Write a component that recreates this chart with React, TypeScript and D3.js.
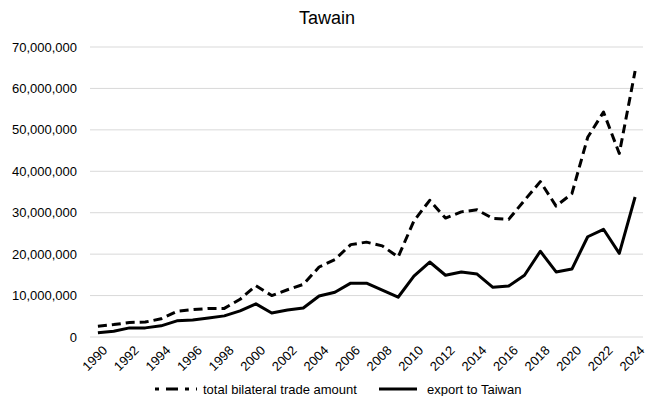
import React, { useEffect, useRef } from 'react';
import * as d3 from 'd3';

// years 1990 - 2024
const years: number[] = d3.range(1990, 2025);

const totalTrade: number[] = [
  2.6, 3.0, 3.5, 3.6, 4.4, 6.2, 6.6, 6.9, 6.9, 9.1,
  12.4, 10.0, 11.4, 12.7, 16.9, 18.7, 22.3, 22.9, 22.0, 19.3,
  28.0, 33.0, 28.7, 30.2, 30.7, 28.6, 28.4, 33.0, 37.5, 31.6,
  34.6, 48.2, 54.3, 44.3, 64.2,
].map(v => v * 1e6);

const exportTW: number[] = [
  1.0, 1.4, 2.2, 2.2, 2.7, 3.9, 4.1, 4.6, 5.1, 6.3,
  8.0, 5.8, 6.5, 7.0, 9.9, 10.8, 13.0, 13.0, 11.3, 9.6,
  14.7, 18.1, 14.9, 15.7, 15.2, 12.0, 12.3, 14.9, 20.7, 15.7,
  16.4, 24.2, 26.0, 20.2, 33.8,
].map(v => v * 1e6);

const yTicks: number[] = [0, 1e7, 2e7, 3e7, 4e7, 5e7, 6e7, 7e7];

const App = () => {
  const ref = useRef<SVGSVGElement>(null);

  useEffect(() => {
    const width = 657;
    const height = 400;
    const margin = { top: 47, right: 14, bottom: 63, left: 90 };
    const font = 'Liberation Sans, Arial, Helvetica, sans-serif';

    const svg = d3.select(ref.current);
    svg.selectAll('*').remove();
    svg.attr('width', width).attr('height', height)
      .style('font-family', font);

    svg.append('rect').attr('width', width).attr('height', height).attr('fill', '#fff');

    const x = d3.scaleBand<number>()
      .domain(years)
      .range([margin.left, width - margin.right]);

    const y = d3.scaleLinear()
      .domain([0, 7e7])
      .range([height - margin.bottom, margin.top]);

    // gridlines
    svg.append('g')
      .selectAll('line')
      .data(yTicks)
      .enter()
      .append('line')
      .attr('x1', margin.left)
      .attr('x2', width - margin.right)
      .attr('y1', d => y(d))
      .attr('y2', d => y(d))
      .attr('stroke', '#d9d9d9')
      .attr('stroke-width', 1);

    // y labels
    svg.append('g')
      .selectAll('text')
      .data(yTicks)
      .enter()
      .append('text')
      .attr('x', 77)
      .attr('y', d => y(d))
      .attr('dy', '0.35em')
      .attr('text-anchor', 'end')
      .attr('font-size', 13)
      .attr('fill', '#000')
      .text(d => d3.format(',')(d));

    // x labels, every other year, rotated
    const cx = (yr: number) => (x(yr) as number) + x.bandwidth() / 2;
    svg.append('g')
      .selectAll('text')
      .data(years.filter(yr => yr % 2 === 0))
      .enter()
      .append('text')
      .attr('transform', d => `translate(${cx(d) + 7},${height - margin.bottom + 11}) rotate(-45)`)
      .attr('text-anchor', 'end')
      .attr('dy', '0.35em')
      .attr('font-size', 13)
      .attr('fill', '#000')
      .text(d => d);

    const line = (vals: number[]) => d3.line<number>()
      .x((_, i) => cx(years[i]))
      .y(d => y(d))(vals);

    svg.append('path')
      .attr('d', line(totalTrade))
      .attr('fill', 'none')
      .attr('stroke', '#000')
      .attr('stroke-width', 3)
      .attr('stroke-dasharray', '9,5')
      .attr('stroke-linejoin', 'round');

    svg.append('path')
      .attr('d', line(exportTW))
      .attr('fill', 'none')
      .attr('stroke', '#000')
      .attr('stroke-width', 3)
      .attr('stroke-linejoin', 'round');

    // title
    svg.append('text')
      .attr('x', 327)
      .attr('y', 24)
      .attr('text-anchor', 'middle')
      .attr('font-size', 18)
      .attr('fill', '#000')
      .text('Tawain');

    // legend
    const ly = 389;
    const legend = svg.append('g').attr('font-size', 13);
    legend.append('line')
      .attr('x1', 155).attr('x2', 197).attr('y1', ly).attr('y2', ly)
      .attr('stroke', '#000').attr('stroke-width', 3).attr('stroke-dasharray', '4,7,12,7');
    legend.append('text')
      .attr('x', 203).attr('y', ly).attr('dy', '0.35em')
      .text('total bilateral trade amount');
    legend.append('line')
      .attr('x1', 379).attr('x2', 417).attr('y1', ly).attr('y2', ly)
      .attr('stroke', '#000').attr('stroke-width', 3);
    legend.append('text')
      .attr('x', 427).attr('y', ly).attr('dy', '0.35em')
      .text('export to Taiwan');
  }, []);

  return (
    <div style={{ margin: -8 }}>
      <svg ref={ref} />
    </div>
  );
};

export default App;
